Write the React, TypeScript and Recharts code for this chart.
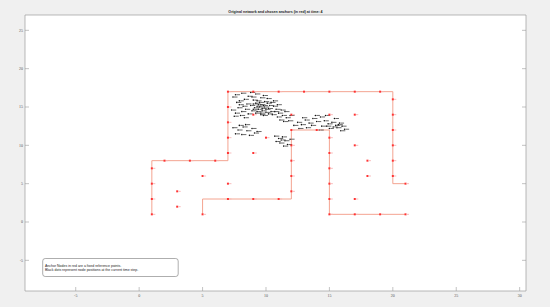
import React from 'react';
import { ScatterChart, Scatter, XAxis, YAxis, ReferenceArea } from 'recharts';

const xTicks = [-5, 0, 5, 10, 15, 20, 25, 30];
const yTicks = [-5, 0, 5, 10, 15, 20, 25];

// red network outlines (corner points)
const pathA = [[1, 1], [1, 8], [7, 8], [7, 17], [20, 17], [20, 5], [21, 5]];
const pathB = [[5, 1], [5, 3], [12, 3], [12, 12], [15, 12], [15, 1], [21, 1]];

// anchor nodes (red)
const anchors = [
  [1, 1], [1, 3], [1, 5], [1, 7], [2, 8], [4, 8], [6, 8],
  [7, 9], [7, 11], [7, 13], [7, 15], [7, 17],
  [9, 17], [11, 17], [13, 17], [15, 17], [17, 17], [19, 17],
  [20, 16], [20, 14], [20, 12], [20, 10], [20, 8], [20, 6], [21, 5],
  [5, 1], [7, 3], [9, 3], [11, 3],
  [12, 4], [12, 6], [12, 8], [12, 10], [12, 12], [14, 12],
  [15, 11], [15, 9], [15, 7], [15, 5], [15, 3], [15, 1],
  [17, 1], [19, 1], [21, 1],
  [3, 2], [3, 4], [5, 6], [7, 5], [9, 9], [10, 11], [9, 14],
  [12, 14], [15, 14], [17, 14], [17, 10], [18, 8], [18, 6], [17, 3],
];

// node positions at current time step (black)
const nodes = [
  [7.6, 16.6], [8.1, 16.8], [8.6, 16.4], [9.2, 16.7], [9.6, 16.2], [8.3, 16.0], [7.9, 15.8],
  [9.0, 15.9], [10.1, 16.1], [10.6, 15.8], [8.8, 16.9], [7.4, 16.3], [8.9, 16.3], [9.8, 16.5],
  [9.0, 15.4], [9.3, 15.1], [9.6, 15.3], [9.9, 15.0], [10.2, 14.8], [9.4, 14.7], [9.7, 14.5],
  [10.0, 14.3], [10.4, 14.4], [9.1, 14.9], [8.8, 15.2], [9.5, 15.6], [10.1, 15.5], [10.6, 15.1],
  [10.8, 14.7], [9.2, 14.2], [9.8, 13.9], [10.5, 14.0], [8.9, 14.5], [9.3, 15.8], [10.3, 15.2], [9.6, 14.0],
  [9.2, 15.5], [9.5, 15.0], [9.8, 15.2], [10.0, 14.7], [9.3, 14.4], [9.7, 14.8], [10.2, 14.1],
  [9.9, 15.7], [9.4, 15.3], [10.4, 15.6], [10.7, 14.4], [9.0, 14.7], [9.6, 14.2], [10.9, 15.3],
  [7.3, 14.6], [7.6, 14.2], [7.8, 14.9], [8.1, 14.4], [8.4, 14.7], [8.2, 15.1], [7.5, 13.8],
  [8.0, 13.9], [8.6, 14.1], [7.9, 15.3], [8.5, 15.4], [8.3, 13.6], [7.7, 15.6],
  [11.0, 14.2], [11.3, 13.9], [11.6, 13.6], [11.1, 13.3], [11.8, 13.2], [10.9, 13.7], [11.5, 14.4],
  [11.9, 13.9], [11.2, 14.6], [11.4, 13.1],
  [7.4, 12.3], [7.8, 12.0], [8.2, 12.4], [8.5, 11.9], [8.9, 12.2], [9.3, 11.8], [7.6, 11.5],
  [8.1, 11.4], [8.7, 11.3], [9.1, 11.6], [7.9, 12.6], [8.4, 12.7],
  [10.7, 11.2], [11.0, 10.9], [11.3, 11.1], [11.5, 10.6], [11.1, 10.3], [10.8, 10.5], [11.7, 10.1],
  [11.4, 9.9], [11.9, 10.8], [11.2, 10.7],
  [12.2, 12.6], [12.5, 13.0], [12.8, 12.7], [13.1, 13.3], [13.4, 12.9], [13.7, 13.5], [13.2, 12.3],
  [12.6, 12.2], [14.0, 13.1], [14.3, 13.7], [14.6, 13.2], [14.9, 12.8], [15.2, 13.0], [15.5, 12.6],
  [15.8, 12.9], [14.4, 12.5], [15.0, 12.2], [15.6, 12.3], [16.0, 12.5], [16.2, 12.1], [13.9, 13.9],
  [14.7, 13.9], [15.4, 13.5], [12.9, 13.6], [15.9, 11.9], [14.2, 12.0], [15.3, 12.4], [15.7, 12.7],
  [13.6, 12.6], [14.8, 12.5],
];

const toPts = (arr: number[][]) => arr.map(([x, y]) => ({ x, y }));

const BOX = '#9b9b9b';
const LABEL = '#555';

const BottomTick = ({ x, y, payload }: any) => (
  <g>
    <line x1={x} y1={y} x2={x} y2={y - 4} stroke={BOX} strokeWidth={0.6} />
    <text x={x} y={y + 6} textAnchor="middle" fontSize={4} fill={LABEL}>{payload.value}</text>
  </g>
);
const TopTick = ({ x, y }: any) => (
  <line x1={x} y1={y} x2={x} y2={y + 4} stroke={BOX} strokeWidth={0.6} />
);
const LeftTick = ({ x, y, payload }: any) => (
  <g>
    <line x1={x} y1={y} x2={x + 4} y2={y} stroke={BOX} strokeWidth={0.6} />
    <text x={x - 2} y={y + 1.4} textAnchor="end" fontSize={4} fill={LABEL}>{payload.value}</text>
  </g>
);
const RightTick = ({ x, y }: any) => (
  <line x1={x} y1={y} x2={x - 4} y2={y} stroke={BOX} strokeWidth={0.6} />
);

const NoMark = () => <g />;

const AnchorMark = ({ cx, cy }: any) => (
  <g>
    <rect x={cx - 1} y={cy - 1} width={2} height={2} fill="#f33" />
    <line x1={cx + 1.2} y1={cy} x2={cx + 3.5} y2={cy} stroke="#f7b5b5" strokeWidth={0.9} />
  </g>
);

const NodeMark = ({ cx, cy }: any) => (
  <g>
    <circle cx={cx} cy={cy} r={0.8} fill="#111" />
    <line x1={cx + 1} y1={cy} x2={cx + 4.5} y2={cy} stroke="#444" strokeWidth={0.8} />
  </g>
);

export default function App() {
  return (
    <div style={{ position: 'fixed', left: 0, top: 0, width: 550, height: 307, background: '#f0f0f0' }}>
      <ScatterChart width={550} height={307} margin={{ top: 10, right: 19, bottom: 6, left: 10 }}>
        <XAxis type="number" dataKey="x" domain={[-9, 30.5]} ticks={xTicks} allowDataOverflow
          height={10} tickSize={0} tickMargin={0} axisLine={{ stroke: BOX, strokeWidth: 0.7 }} tickLine={false}
          tick={BottomTick} interval={0} />
        <XAxis xAxisId="top" orientation="top" type="number" domain={[-9, 30.5]} ticks={xTicks} allowDataOverflow
          height={5} tickSize={0} tickMargin={0} axisLine={{ stroke: BOX, strokeWidth: 0.7 }} tickLine={false}
          tick={TopTick} interval={0} />
        <YAxis type="number" dataKey="y" domain={[-9, 27]} ticks={yTicks} allowDataOverflow
          width={15} tickSize={0} tickMargin={0} axisLine={{ stroke: BOX, strokeWidth: 0.7 }} tickLine={false}
          tick={LeftTick} interval={0} />
        <YAxis yAxisId="right" orientation="right" type="number" domain={[-9, 27]} ticks={yTicks} allowDataOverflow
          width={5} tickSize={0} tickMargin={0} axisLine={{ stroke: BOX, strokeWidth: 0.7 }} tickLine={false}
          tick={RightTick} interval={0} />
        <ReferenceArea x1={-9} x2={30.5} y1={-9} y2={27} fill="#fff" fillOpacity={1} stroke="none" />
        <Scatter data={toPts(pathA)} line={{ stroke: '#f39a85', strokeWidth: 0.9 }} lineType="joint" shape={NoMark} isAnimationActive={false} />
        <Scatter data={toPts(pathB)} line={{ stroke: '#f39a85', strokeWidth: 0.9 }} lineType="joint" shape={NoMark} isAnimationActive={false} />
        <Scatter data={toPts(nodes)} shape={NodeMark} isAnimationActive={false} />
        <Scatter data={toPts(anchors)} shape={AnchorMark} isAnimationActive={false} />
      </ScatterChart>
      <svg width={550} height={307} style={{ position: 'absolute', left: 0, top: 0, pointerEvents: 'none' }}
        fontFamily="'Liberation Sans', Arial, sans-serif">
        <text x={275.5} y={12.5} textAnchor="middle" fontSize={3.6} fontWeight="bold" fill="#222">
          Original network and chosen anchors (in red) at time: 4
        </text>
        <rect x={42.7} y={258.5} width={135.5} height={18} rx={2.5} fill="#fff" stroke="#777" strokeWidth={0.6} />
        <text x={45} y={267.2} fontSize={3.5} fill="#222">Anchor Nodes in red are a fixed reference points.</text>
        <text x={45} y={271.2} fontSize={3.5} fill="#222">Black dots represent node positions at the current time step.</text>
      </svg>
    </div>
  );
}
